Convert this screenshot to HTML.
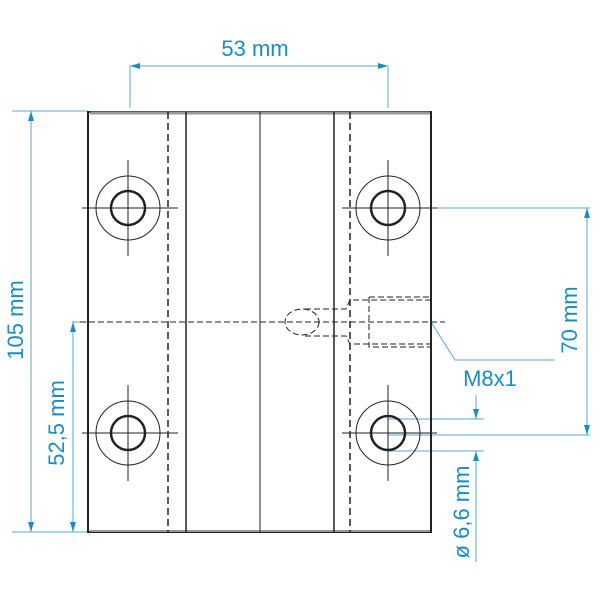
<!DOCTYPE html>
<html><head><style>body{margin:0;background:#fff}svg{display:block}text{font-family:"Liberation Sans",sans-serif;fill:#1a8cc0;font-size:22px}</style></head>
<body>
<svg width="600" height="600" viewBox="0 0 600 600" xmlns="http://www.w3.org/2000/svg">
<defs>
<marker id="a" viewBox="0 0 10 6" refX="10" refY="3" markerWidth="10" markerHeight="6" orient="auto-start-reverse" markerUnits="userSpaceOnUse"><path d="M0,0L10,3L0,6z" fill="#1a8cc0"/></marker>
</defs>
<g stroke="#5aa8cc" stroke-width="1" fill="none">
<line x1="130" y1="66" x2="388" y2="66" marker-start="url(#a)" marker-end="url(#a)"/>
<line x1="130" y1="66" x2="130" y2="108"/><line x1="388" y1="66" x2="388" y2="108"/>
<line x1="12" y1="111" x2="88" y2="111"/><line x1="12" y1="532" x2="88" y2="532"/>
<line x1="31" y1="111" x2="31" y2="532" marker-start="url(#a)" marker-end="url(#a)"/>
<line x1="72" y1="322" x2="88" y2="322"/>
<line x1="73" y1="322" x2="73" y2="532" marker-start="url(#a)" marker-end="url(#a)"/>
<line x1="388" y1="208" x2="590" y2="208"/><line x1="388" y1="435" x2="590" y2="435"/>
<line x1="587" y1="208" x2="587" y2="435" marker-start="url(#a)" marker-end="url(#a)"/>
<line x1="388" y1="419" x2="484" y2="419"/><line x1="388" y1="451" x2="484" y2="451"/>
<line x1="476" y1="395" x2="476" y2="419" marker-end="url(#a)"/>
<line x1="476" y1="562" x2="476" y2="451" marker-end="url(#a)"/>
<polyline points="431,322 455,360 555,360"/>
</g>
<g stroke="#222" fill="none">
<rect x="88" y="112" width="343" height="420" stroke-width="2"/>
<line x1="90" y1="113" x2="430" y2="113" stroke="#999" stroke-width="3"/>
<line x1="90" y1="531" x2="430" y2="531" stroke="#999" stroke-width="2"/>
<line x1="186" y1="112" x2="186" y2="532" stroke-width="1.5"/>
<line x1="260" y1="112" x2="260" y2="532" stroke-width="1"/>
<line x1="334" y1="112" x2="334" y2="532" stroke-width="1.5"/>
<line x1="168" y1="112" x2="168" y2="532" stroke-width="1.5" stroke-dasharray="7,4"/>
<line x1="350" y1="112" x2="350" y2="532" stroke-width="1.5" stroke-dasharray="7,4"/>
<g stroke-width="1">
<circle cx="128" cy="208" r="32"/><circle cx="388" cy="208" r="32"/>
<circle cx="128" cy="433" r="32"/><circle cx="388" cy="433" r="32"/>
</g>
<g stroke-width="2.5">
<circle cx="128" cy="208" r="17"/><circle cx="388" cy="208" r="17"/>
<circle cx="128" cy="433" r="17"/><circle cx="388" cy="433" r="17"/>
</g>
<g stroke-width="1">
<path d="M82,208H178M128,160V256M342,208H437M388,160V256M82,433H178M128,385V481M342,433H437M388,385V481"/>
</g>
<g stroke-width="1" stroke-dasharray="6,3">
<line x1="80" y1="322" x2="445" y2="322"/>
<ellipse cx="302" cy="322" rx="17" ry="13"/>
<path d="M305,309H346L350,300H431M305,336H346L350,344H431M369,297V347H431M369,297H431"/>
</g>
</g>
<text x="255" y="56" text-anchor="middle">53 mm</text>
<text x="490" y="386" text-anchor="middle">M8x1</text>
<text transform="translate(23,320) rotate(-90)" text-anchor="middle">105 mm</text>
<text transform="translate(64,423) rotate(-90)" text-anchor="middle">52,5 mm</text>
<text transform="translate(577,320) rotate(-90)" text-anchor="middle">70 mm</text>
<text transform="translate(469,512) rotate(-90)" text-anchor="middle">ø 6,6 mm</text>
</svg>
</body></html>
